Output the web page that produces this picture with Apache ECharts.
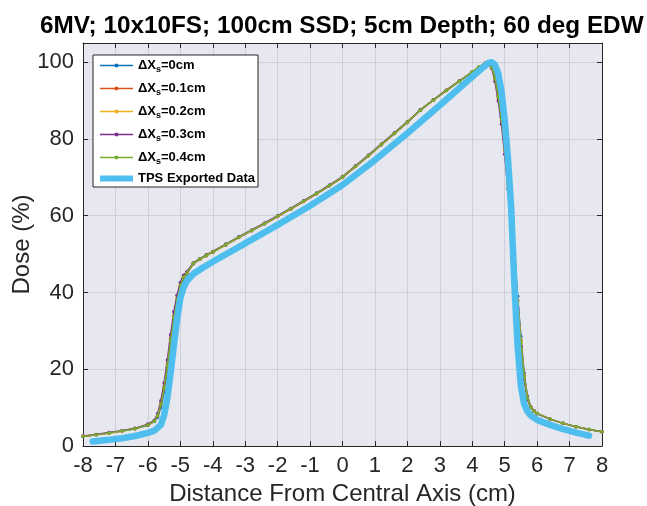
<!DOCTYPE html>
<html>
<head>
<meta charset="utf-8">
<script src="https://cdn.jsdelivr.net/npm/echarts@6/dist/echarts.min.js"></script>
<style>
html,body{margin:0;padding:0;background:#fff;}
#c{width:647px;height:506px;}
</style>
</head>
<body>
<div id="c"></div>
<script>
var titleText = '6MV; 10x10FS; 100cm SSD; 5cm Depth; 60 deg EDW';
var xName = 'Distance From Central Axis (cm)';
var yName = 'Dose (%)';
var seriesNames = ['ΔXs=0cm', 'ΔXs=0.1cm', 'ΔXs=0.2cm', 'ΔXs=0.3cm', 'ΔXs=0.4cm', 'TPS Exported Data'];
var colors = ['#0072BD', '#D95319', '#EDB120', '#7E2F8E', '#77AC30', '#4DBEEE'];

var measX = [-8, -7.6, -7.2, -6.8, -6.4, -6.0, -5.8, -5.7, -5.6, -5.5, -5.4, -5.3, -5.2, -5.1, -5.0, -4.9, -4.8,
  -4.6, -4.4, -4.2, -4.0, -3.6, -3.2, -2.8, -2.4, -2.0, -1.6, -1.2, -0.8, -0.4, 0, 0.4, 0.8, 1.2, 1.6, 2.0,
  2.4, 2.8, 3.2, 3.6, 4.0, 4.2, 4.4, 4.5, 4.6, 4.7, 4.8, 4.9, 5.0, 5.1, 5.2, 5.3, 5.4, 5.5, 5.6, 5.7, 5.8,
  5.9, 6.0, 6.4, 6.8, 7.2, 7.6, 8.0];

var meas0 = [2.5, 2.9, 3.4, 3.9, 4.5, 5.4, 6.4, 7.5, 10, 14, 19.5, 26, 32, 37, 41, 43.5, 44.8,
  47.5, 48.6, 49.6, 50.5, 52.4, 54.3, 56.1, 57.9, 59.8, 61.7, 63.7, 65.7, 67.8, 70, 72.8, 75.6, 78.5, 81.4, 84.3,
  87.5, 90.1, 92.6, 95.0, 97.5, 98.7, 99.8, 99.9, 99, 96.5, 92, 86.5, 79, 70, 61, 50, 39, 28.5, 19, 13, 10.3,
  9.2, 8.5, 7.0, 5.9, 5.0, 4.3, 3.7];
var meas1 = [2.5, 2.9, 3.4, 3.9, 4.5, 5.5, 6.5, 7.8, 10.6, 14.8, 20.5, 27, 33, 37.8, 41.6, 43.9, 45.0,
  47.5, 48.6, 49.6, 50.5, 52.4, 54.3, 56.1, 57.9, 59.8, 61.7, 63.7, 65.7, 67.8, 70, 72.8, 75.6, 78.5, 81.4, 84.3,
  87.5, 90.1, 92.6, 95.0, 97.5, 98.7, 99.8, 99.8, 98.8, 96, 91.3, 85.6, 78, 69, 60, 49, 38, 27.6, 18.4, 12.7, 10.2,
  9.2, 8.5, 7.0, 5.9, 5.0, 4.3, 3.7];
var meas2 = [2.6, 3.0, 3.4, 3.9, 4.6, 5.6, 6.6, 8.1, 11.2, 15.6, 21.4, 28, 34, 38.6, 42.1, 44.2, 45.2,
  47.6, 48.7, 49.7, 50.6, 52.5, 54.4, 56.2, 58.0, 59.9, 61.8, 63.8, 65.8, 67.9, 70.1, 72.9, 75.7, 78.6, 81.5, 84.4,
  87.6, 90.2, 92.7, 95.1, 97.5, 98.7, 99.7, 99.7, 98.6, 95.5, 90.6, 84.7, 77, 68, 59, 48, 37, 26.8, 17.8, 12.4, 10.1,
  9.1, 8.5, 7.0, 5.9, 5.0, 4.3, 3.7];
var meas3 = [2.6, 3.0, 3.5, 4.0, 4.6, 5.7, 6.7, 8.4, 11.8, 16.4, 22.4, 29, 35, 39.3, 42.6, 44.5, 45.4,
  47.7, 48.8, 49.8, 50.7, 52.6, 54.5, 56.3, 58.1, 60.0, 61.9, 63.9, 65.9, 68.0, 70.2, 73.0, 75.8, 78.7, 81.6, 84.5,
  87.6, 90.2, 92.7, 95.1, 97.4, 98.6, 99.6, 99.6, 98.4, 95, 89.9, 83.8, 76, 67, 58, 47, 36, 26, 17.2, 12.1, 10,
  9.1, 8.4, 7.0, 5.9, 5.0, 4.3, 3.7];
var meas4 = [2.5, 2.9, 3.4, 3.9, 4.5, 5.5, 6.5, 7.9, 10.8, 15.2, 21, 27.5, 33.5, 38.2, 41.8, 44, 45.1,
  47.6, 48.7, 49.7, 50.6, 52.5, 54.4, 56.2, 58.0, 59.9, 61.8, 63.8, 65.8, 67.9, 70.1, 72.9, 75.7, 78.6, 81.5, 84.4,
  87.5, 90.1, 92.6, 95.0, 97.5, 98.7, 99.7, 99.8, 98.7, 95.8, 91, 85.2, 77.5, 68.5, 59.5, 48.5, 37.5, 27.2, 18.1, 12.5, 10.1,
  9.1, 8.5, 7.0, 5.9, 5.0, 4.3, 3.7];

var tpsX = [-7.7, -7.2, -6.8, -6.4, -6.0, -5.8, -5.6, -5.5, -5.4, -5.3, -5.2, -5.1, -5.0, -4.9, -4.8, -4.6,
  -4.3, -4.0, -3.0, -2.0, -1.0, 0, 1.0, 2.0, 3.0, 4.0, 4.3, 4.5, 4.6, 4.7, 4.8, 4.9, 5.0, 5.1, 5.2, 5.3,
  5.4, 5.5, 5.6, 5.7, 5.8, 6.0, 6.4, 6.8, 7.2, 7.6];
var tpsY = [1.2, 1.6, 2.0, 2.6, 3.4, 4.0, 5.5, 8, 12.5, 19, 26, 33, 38.5, 41.3, 43, 44.8,
  46.5, 48, 52.8, 57.6, 62.6, 68, 74.5, 81.5, 88.8, 96.2, 98.4, 99.8, 100, 99.3, 97, 92.5, 85, 75, 62, 42,
  26, 15.5, 11, 9, 8, 6.8, 5.5, 4.4, 3.5, 2.7];

var xTicks = {min: -8, max: 8, interval: 1};
var yTicks = {min: 0, max: 105, interval: 20};

function pairs(xs, ys) { return xs.map(function (x, i) { return [x, ys[i]]; }); }

var measSets = [meas0, meas1, meas2, meas3, meas4];
var FONT = '"Liberation Sans", Arial, sans-serif';
var axisColor = '#262626';

var series = measSets.map(function (ys, i) {
  return {
    name: seriesNames[i], type: 'line', data: pairs(measX, ys),
    symbol: 'circle', symbolSize: 3.5, showSymbol: true,
    lineStyle: {width: 1.5, color: colors[i], join: 'round'},
    itemStyle: {color: colors[i]},
    emphasis: {disabled: true}, z: 2 + i
  };
});
series.push({
  name: seriesNames[5], type: 'line', data: pairs(tpsX, tpsY),
  symbol: 'none', showSymbol: false,
  lineStyle: {width: 6.5, color: colors[5], join: 'round', cap: 'round'},
  itemStyle: {color: colors[5]},
  emphasis: {disabled: true}, z: 10
});

var legendData = seriesNames.map(function (n, i) {
  if (i === 5) return {name: n, lineStyle: {width: 6, color: colors[5], cap: 'butt'}};
  return {name: n, lineStyle: {width: 1.5, color: colors[i]}};
});

var chart = echarts.init(document.getElementById('c'), null, {renderer: 'canvas'});
chart.setOption({
  animation: false,
  backgroundColor: '#ffffff',
  textStyle: {fontFamily: FONT},
  title: {
    text: titleText, left: 35, top: 9,
    textStyle: {fontFamily: FONT, fontSize: 24.3, fontWeight: 'bold', color: '#000'}
  },
  grid: {left: 83, right: 45, top: 43, bottom: 60, show: true, backgroundColor: '#e7e7f0', borderWidth: 0,
    outerBoundsMode: 'none', containLabel: false},
  legend: {
    orient: 'vertical', left: 93, top: 55,
    backgroundColor: '#ffffff', borderColor: axisColor, borderWidth: 1, borderRadius: 0,
    padding: [2, 3, 2, 4], itemWidth: 33, itemHeight: 5, itemGap: 6,
    data: legendData,
    formatter: function (name) {
      if (name.indexOf('ΔX') === 0) {
        return '{b|ΔX}{s|s}{b|' + name.slice(3) + '}';
      }
      return '{b|' + name + '}';
    },
    textStyle: {
      fontFamily: FONT, fontSize: 13, fontWeight: 'bold', color: '#000',
      rich: {
        b: {fontFamily: FONT, fontSize: 13, fontWeight: 'bold', color: '#000', lineHeight: 16},
        s: {fontFamily: FONT, fontSize: 9, fontWeight: 'bold', color: '#000', lineHeight: 16, padding: [8, 0, 0, 0]}
      }
    }
  },
  xAxis: [{
    type: 'value', min: xTicks.min, max: xTicks.max, interval: xTicks.interval, position: 'bottom',
    name: xName, nameLocation: 'middle', nameGap: 36, nameMoveOverlap: false,
    nameTextStyle: {fontFamily: FONT, fontSize: 24, color: axisColor},
    axisLine: {show: true, onZero: false, lineStyle: {color: axisColor, width: 1}},
    axisTick: {show: true, inside: true, length: 5, lineStyle: {color: axisColor}},
    axisLabel: {fontFamily: FONT, fontSize: 22, color: axisColor, margin: 9},
    splitLine: {show: true, lineStyle: {color: '#cfcfda', width: 1}}
  }, {
    type: 'value', min: xTicks.min, max: xTicks.max, interval: xTicks.interval, position: 'top',
    axisLine: {show: true, onZero: false, lineStyle: {color: axisColor, width: 1}},
    axisTick: {show: true, inside: true, length: 5, lineStyle: {color: axisColor}},
    axisLabel: {show: false}, splitLine: {show: false}
  }],
  yAxis: [{
    type: 'value', min: yTicks.min, max: yTicks.max, interval: yTicks.interval, position: 'left',
    name: yName, nameLocation: 'middle', nameGap: 49, nameMoveOverlap: false,
    nameTextStyle: {fontFamily: FONT, fontSize: 24, color: axisColor},
    axisLine: {show: true, onZero: false, lineStyle: {color: axisColor, width: 1}},
    axisTick: {show: true, inside: true, length: 5, lineStyle: {color: axisColor}},
    axisLabel: {fontFamily: FONT, fontSize: 22, color: axisColor, margin: 9, showMaxLabel: false},
    splitLine: {show: true, lineStyle: {color: '#cfcfda', width: 1}}
  }, {
    type: 'value', min: yTicks.min, max: yTicks.max, interval: yTicks.interval, position: 'right',
    axisLine: {show: true, onZero: false, lineStyle: {color: axisColor, width: 1}},
    axisTick: {show: true, inside: true, length: 5, lineStyle: {color: axisColor}},
    axisLabel: {show: false}, splitLine: {show: false}
  }],
  series: series
});
</script>
</body>
</html>
